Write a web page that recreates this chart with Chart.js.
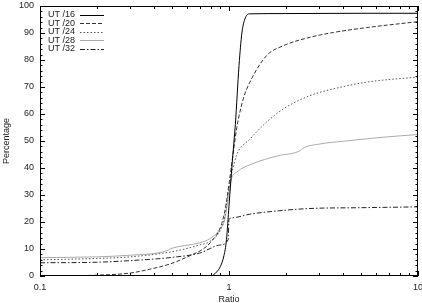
<!DOCTYPE html>
<html><head><meta charset="utf-8">
<script src="https://cdn.jsdelivr.net/npm/chart.js@4/dist/chart.umd.min.js"></script>
<style>html,body{margin:0;padding:0;background:#fff}canvas{display:block}</style>
</head><body>
<canvas id="chart" width="422" height="303"></canvas>
<script>
const xTicks=[0.1,1,10];
const names=["UT /16","UT /20","UT /24","UT /28","UT /32"];

const ut16X=[0.1,0.5,0.8,0.86,0.9,0.94,0.97,1.0,1.04,1.08,1.13,1.17,1.22,1.29,2,5,10];
const ut16Y=[0,0,0,1.5,3.5,7.5,13.5,26,42,56,78,90,95.6,97.1,97.2,97.3,97.3];

const ut20X=[0.1,0.2,0.3,0.38,0.49,0.62,0.73,0.8,0.9,0.95,1.0,1.05,1.1,1.19,1.29,1.58,1.94,2.68,3.57,5.35,10];
const ut20Y=[0,0.3,1.1,2.5,4.5,7.5,10,12.5,18,24,34,45,55,65.6,71.8,81.6,85.3,88.4,90.2,92,94.2];

const ut24X=[0.1,0.2,0.3,0.5,0.7,0.8,0.9,0.95,1.0,1.05,1.1,1.29,1.58,1.94,2.68,3.57,5.35,10];
const ut24Y=[6.0,6.5,7.1,9,11.5,13,17,22,33,40,45,50.7,57,61.9,66.8,69.3,71.8,73.7];

const ut28X=[0.1,0.2,0.3,0.47,0.49,0.7,0.8,0.9,0.95,1.0,1.03,1.1,1.31,1.81,2.4,2.45,3.03,4.03,6.55,10];
const ut28Y=[6.8,7.1,7.7,9.4,10.1,12.3,14,17.5,21,31,36,38.5,41.4,44.5,46.6,47.2,48.9,49.9,51.4,52.4];

const ut32X=[0.1,0.2,0.3,0.5,0.7,0.9,0.99,1.0,1.05,1.29,1.94,2.68,5,10];
const ut32Y=[4.9,5.1,5.7,6.9,8.5,11.5,13.5,21,21.6,22.9,24.3,25,25.3,25.6];

const xs=[ut16X,ut20X,ut24X,ut28X,ut32X];
const ys=[ut16Y,ut20Y,ut24Y,ut28Y,ut32Y];
const colors=["#000","#333","#555","#aaa","#222"];
const dashes=[[],[4,2],[1.5,2],[],[5,2,1.5,2]];
const font="'Liberation Sans', Arial, sans-serif";

const datasets=names.map((n,i)=>({
 label:n,
 data:xs[i].map((x,j)=>({x:x,y:ys[i][j]})),
 borderColor:colors[i],borderWidth:1,borderDash:dashes[i],
 pointRadius:0,fill:false,cubicInterpolationMode:"monotone"
}));

const frame={id:"frame",afterDatasetsDraw(c){
 const ctx=c.ctx,a=c.chartArea,x=c.scales.x,y=c.scales.y;
 ctx.save();
 ctx.strokeStyle="#000";ctx.lineWidth=1;ctx.setLineDash([]);
 ctx.beginPath();
 for(let v=0;v<=100;v+=2){
  const p=Math.round(y.getPixelForValue(v))+0.5,l=v%10?2.5:5;
  ctx.moveTo(a.left,p);ctx.lineTo(a.left+l,p);
  ctx.moveTo(a.right,p);ctx.lineTo(a.right-l,p);
 }
 [0.1,1].forEach(d=>{for(let k=1;k<=10;k++){
  const p=Math.round(x.getPixelForValue(d*k))+0.5,l=(k==1||k==10)?5:3;
  ctx.moveTo(p,a.bottom);ctx.lineTo(p,a.bottom-l);
  ctx.moveTo(p,a.top);ctx.lineTo(p,a.top+l);
 }});
 ctx.stroke();
 ctx.strokeRect(a.left+0.5,a.top+0.5,a.right-a.left-1,a.bottom-a.top-1);
 // key
 ctx.font="9px "+font;ctx.fillStyle="#222";ctx.textAlign="right";ctx.textBaseline="middle";
 c.data.datasets.forEach((ds,i)=>{
  const ty=a.top+8.5+i*8.6;
  ctx.fillText(ds.label,a.left+35,ty);
  ctx.strokeStyle=ds.borderColor;ctx.setLineDash(ds.borderDash);
  ctx.beginPath();ctx.moveTo(a.left+40,Math.round(ty)+0.5);ctx.lineTo(a.left+64,Math.round(ty)+0.5);ctx.stroke();
 });
 ctx.restore();
}};

new Chart(document.getElementById("chart"),{
 type:"line",
 data:{datasets:datasets},
 options:{
  responsive:false,animation:false,devicePixelRatio:1,
  layout:{padding:{top:6,right:4,left:0,bottom:0}},
  plugins:{legend:{display:false},tooltip:{enabled:false}},
  scales:{
   x:{type:"logarithmic",min:0.1,max:10,
    grid:{display:false,drawTicks:false,tickLength:0},border:{display:false},
    afterBuildTicks:s=>{s.ticks=xTicks.map(v=>({value:v}))},
    afterFit:s=>{s.height=27;s.paddingLeft=0;s.paddingRight=0},
    ticks:{callback:v=>String(v),font:{family:font,size:9},color:"#222",padding:6,maxRotation:0,autoSkip:false},
    title:{display:true,text:"Ratio",font:{family:font,size:9},color:"#222",padding:{top:0,bottom:-2}}},
   y:{min:0,max:100,
    grid:{display:false,drawTicks:false,tickLength:0},border:{display:false},
    afterFit:s=>{s.width=40;s.paddingTop=0;s.paddingBottom=0},
    ticks:{stepSize:10,font:{family:font,size:9},color:"#222",padding:6},
    title:{display:true,text:"Percentage",font:{family:font,size:9},color:"#222",padding:{top:1,bottom:0}}}
  }
 },
 plugins:[frame]
});
</script>
</body></html>
